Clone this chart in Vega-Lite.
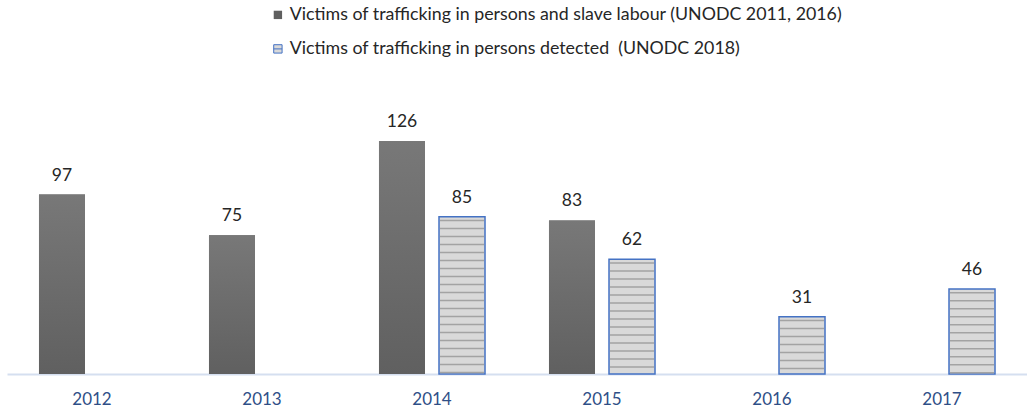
{
  "$schema": "https://vega.github.io/schema/vega-lite/v6.json",
  "width": 1020,
  "height": 274,
  "autosize": "none",
  "padding": {"left": 7, "top": 100, "right": 0, "bottom": 36},
  "background": "white",
  "data": {
    "values": [
      {"year": "2012", "series": "Victims of trafficking in persons and slave labour (UNODC 2011, 2016)", "value": 97},
      {"year": "2013", "series": "Victims of trafficking in persons and slave labour (UNODC 2011, 2016)", "value": 75},
      {"year": "2014", "series": "Victims of trafficking in persons and slave labour (UNODC 2011, 2016)", "value": 126},
      {"year": "2015", "series": "Victims of trafficking in persons and slave labour (UNODC 2011, 2016)", "value": 83},
      {"year": "2014", "series": "Victims of trafficking in persons detected\u00a0 (UNODC 2018)", "value": 85},
      {"year": "2015", "series": "Victims of trafficking in persons detected\u00a0 (UNODC 2018)", "value": 62},
      {"year": "2016", "series": "Victims of trafficking in persons detected\u00a0 (UNODC 2018)", "value": 31},
      {"year": "2017", "series": "Victims of trafficking in persons detected\u00a0 (UNODC 2018)", "value": 46}
    ]
  },
  "encoding": {
    "x": {
      "field": "year",
      "type": "ordinal",
      "scale": {"paddingInner": 0, "paddingOuter": 0},
      "axis": {
        "title": null,
        "ticks": false,
        "labelAngle": 0,
        "labelColor": "#2f4f87",
        "labelFont": "Lato",
        "labelFontSize": 17,
        "labelPadding": 17,
        "domainColor": "#d5dff0",
        "domainWidth": 2
      }
    },
    "xOffset": {
      "field": "series",
      "type": "nominal",
      "scale": {"paddingInner": 0.2333, "paddingOuter": 0.533}
    },
    "y": {
      "field": "value",
      "type": "quantitative",
      "scale": {"domain": [0, 148.1], "nice": false},
      "axis": null
    }
  },
  "layer": [
    {
      "mark": {"type": "bar", "strokeWidth": 1.5},
      "encoding": {
        "color": {
          "field": "series",
          "type": "nominal",
          "scale": {
            "domain": [
              "Victims of trafficking in persons and slave labour (UNODC 2011, 2016)",
              "Victims of trafficking in persons detected\u00a0 (UNODC 2018)"
            ],
            "range": ["#5f5f5f", "#d9d9d9"]
          },
          "legend": {
            "title": null,
            "orient": "none",
            "legendX": 262,
            "legendY": -94,
            "direction": "vertical",
            "rowPadding": 15,
            "labelFont": "Lato",
            "labelFontSize": 17.8,
            "labelColor": "#262626",
            "labelOffset": 3,
            "labelLimit": 800,
            "symbolSize": 70,
            "encode": {
              "symbols": {
                "update": {
                  "shape": {"signal": "indexof(datum.value, 'detected') > -1 ? 'M-1,-1H1V1H-1Z M-1,0H1' : 'square'"},
                  "stroke": {"signal": "indexof(datum.value, 'detected') > -1 ? '#4472c4' : null"},
                  "strokeWidth": {"value": 1}
                }
              }
            }
          }
        },
        "stroke": {
          "field": "series",
          "type": "nominal",
          "scale": {"range": ["transparent", "#4472c4"]},
          "legend": null
        }
      }
    },
    {
      "transform": [{"filter": "indexof(datum.series, 'slave') > -1"}],
      "mark": {
        "type": "bar",
        "fill": {"gradient": "linear", "x1": 0, "y1": 0, "x2": 0, "y2": 1, "stops": [{"offset": 0, "color": "#787878"}, {"offset": 1, "color": "#606060"}]}
      },
      "encoding": {}
    },
    {
      "transform": [{"filter": "indexof(datum.series, 'detected') > -1"}],
      "mark": {"type": "rule", "color": "#a3a3a3", "strokeWidth": 44, "strokeDash": [1.5, 6.5], "strokeDashOffset": 5},
      "encoding": {"y2": {"datum": 0}}
    },
    {
      "mark": {"type": "text", "baseline": "bottom", "dy": -10, "font": "Lato", "fontSize": 17.5, "color": "#262626"},
      "encoding": {"text": {"field": "value", "type": "quantitative"}}
    }
  ],
  "config": {"view": {"stroke": null}}
}
